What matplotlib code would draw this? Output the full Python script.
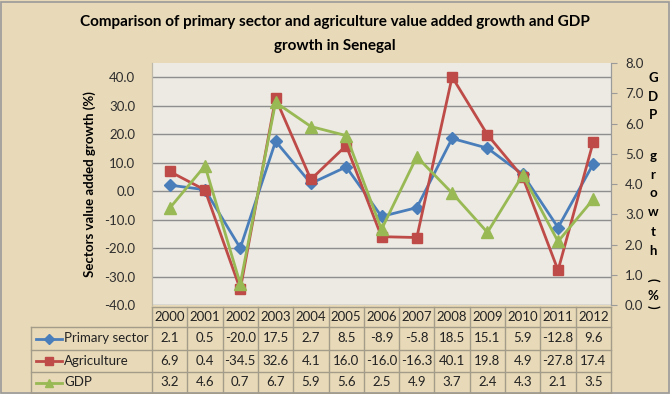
import matplotlib
matplotlib.use("Agg")
import matplotlib.pyplot as plt
from matplotlib.lines import Line2D
from matplotlib.patches import Rectangle
from matplotlib.transforms import blended_transform_factory

YEARS = ["2000", "2001", "2002", "2003", "2004", "2005", "2006",
         "2007", "2008", "2009", "2010", "2011", "2012"]
PRIMARY = [2.1, 0.5, -20.0, 17.5, 2.7, 8.5, -8.9, -5.8, 18.5, 15.1, 5.9, -12.8, 9.6]
AGRICULTURE = [6.9, 0.4, -34.5, 32.6, 4.1, 16.0, -16.0, -16.3, 40.1, 19.8, 4.9, -27.8, 17.4]
GDP = [3.2, 4.6, 0.7, 6.7, 5.9, 5.6, 2.5, 4.9, 3.7, 2.4, 4.3, 2.1, 3.5]
LEFT_TICKS = [-40, -30, -20, -10, 0, 10, 20, 30, 40]
RIGHT_TICKS = [0, 1, 2, 3, 4, 5, 6, 7, 8]

SERIES = [
    ("Primary sector", PRIMARY, "#4A7EBB", "D", 6),
    ("Agriculture", AGRICULTURE, "#BE4B48", "s", 7.5),
    ("GDP", GDP, "#98B954", "^", 8),
]

FONT = "Lato"
BG = "#E8D9B8"
PLOT_BG = "#ECEAE2"
GRID = "#8E8E8E"
TABLE_LINE = "#A39C8A"
W, H = 670, 394

plt.rcParams["font.family"] = [FONT, "DejaVu Sans"]


def fy(py):
    return 1 - py / H


def fx(px):
    return px / W


fig = plt.figure(figsize=(W / 100, H / 100), dpi=100, facecolor=BG)
ax = fig.add_axes([fx(152), fy(305), fx(611) - fx(152), fy(63) - fy(305)])
ax.set_facecolor(PLOT_BG)
ax2 = ax.twinx()

x = list(range(len(YEARS)))
for label, values, color, marker, size in SERIES[:2]:
    ax.plot(x, values, color=color, linewidth=2, marker=marker,
            markersize=size, zorder=3)
name, values, color, marker, size = SERIES[2]
ax2.plot(x, values, color=color, linewidth=2, marker=marker,
         markersize=size, zorder=3)

ax.set_xlim(-0.5, len(YEARS) - 0.5)
ax.set_ylim(-40, 45)
ax.set_yticks(LEFT_TICKS)
ax.set_yticklabels([f"{v:.1f}" for v in LEFT_TICKS])
ax.set_xticks([])
ax.grid(axis="y", color=GRID, linewidth=1)
ax.set_axisbelow(True)
ax.tick_params(axis="y", length=0, pad=12, labelsize=9.5, labelcolor="#2E2E2E")

ax2.set_ylim(0, 8)
ax2.set_yticks(RIGHT_TICKS)
ax2.set_yticklabels([f"{v:.1f}" for v in RIGHT_TICKS])
ax2.tick_params(axis="y", length=4, color="#9A9A9A", pad=6, labelsize=9.5,
                labelcolor="#2E2E2E")

for a in (ax, ax2):
    for side in ("top", "bottom"):
        a.spines[side].set_visible(False)
    a.spines["left"].set_color("#BDB8A8")
    a.spines["right"].set_color("#9A9A9A")

ax.set_ylabel("Sectors value added growth (%)", fontsize=9.5,
              fontweight="bold", labelpad=6)

# title
fig.text(0.5, fy(22), "Comparison of primary sector and agriculture value added growth and GDP",
         ha="center", va="center", fontsize=11, fontweight="bold")
fig.text(0.5, fy(46), "growth in Senegal",
         ha="center", va="center", fontsize=11, fontweight="bold")

# stacked right axis label
letters = [("G", 78), ("D", 97), ("P", 115), ("g", 156), ("r", 175), ("o", 193),
           ("w", 212), ("t", 232), ("h", 251), ("(", 280), ("%", 296), (")", 307)]
for ch, py in letters:
    rot = -90 if ch in "()" else 0
    fig.text(fx(653), fy(py), ch, ha="center", va="center", fontsize=9.5,
             fontweight="bold", rotation=rot)

# data table
tr = blended_transform_factory(ax.transData, fig.transFigure)
rows_y = [307, 327, 350, 372, 393]
x_left = fx(31)
x_mid = fx(152)
x_right = fx(611)


def hline(py, x0, x1):
    fig.add_artist(Line2D([x0, x1], [fy(py), fy(py)], color=TABLE_LINE,
                          linewidth=1, transform=fig.transFigure))


def vline(px, py0, py1):
    fig.add_artist(Line2D([fx(px), fx(px)], [fy(py0), fy(py1)], color=TABLE_LINE,
                          linewidth=1, transform=fig.transFigure))


hline(rows_y[0], x_mid, x_right)
for py in rows_y[1:]:
    hline(py, x_left, x_right)
vline(31, rows_y[1], rows_y[-1])
for i in range(len(YEARS) + 1):
    xb = i - 0.5
    fig.add_artist(Line2D([xb, xb], [fy(rows_y[0]), fy(rows_y[-1])],
                          color=TABLE_LINE, linewidth=1, transform=tr))

for i, year in enumerate(YEARS):
    fig.text(i, fy((rows_y[0] + rows_y[1]) / 2), year, transform=tr,
             ha="center", va="center", fontsize=9.5, color="#222222")

for r, (label, values, color, marker, size) in enumerate(SERIES):
    yc = fy((rows_y[r + 1] + rows_y[r + 2]) / 2)
    fig.add_artist(Line2D([fx(36), fx(62)], [yc, yc], color=color, linewidth=2,
                          transform=fig.transFigure))
    fig.add_artist(Line2D([fx(49)], [yc], color=color, marker=marker,
                          markersize=size * 0.8, transform=fig.transFigure))
    fig.text(fx(64), yc, label, ha="left", va="center", fontsize=9.5,
             color="#222222")
    for i, v in enumerate(values):
        fig.text(i, yc, f"{v:.1f}", transform=tr, ha="center", va="center",
                 fontsize=9.5, color="#222222")

fig.add_artist(Rectangle((0.002, 0.002), 0.996, 0.993, fill=False,
                         edgecolor="#9A9A9A", linewidth=1.2,
                         transform=fig.transFigure))

fig.savefig("out.png", dpi=100, facecolor=BG)
